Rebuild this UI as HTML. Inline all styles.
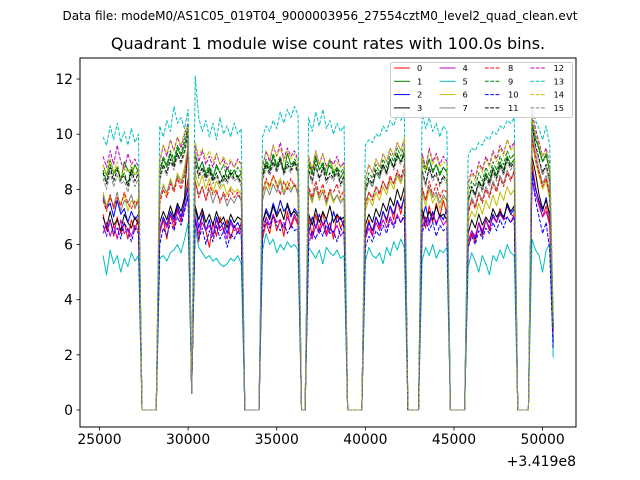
<!DOCTYPE html>
<html><head><meta charset="utf-8"><style>
body{margin:0;background:#fff}
svg{display:block;font-family:"DejaVu Sans","Liberation Sans",sans-serif}
</style></head><body>
<svg id="chart" width="640" height="480" viewBox="0 0 640 480">
<rect width="640" height="480" fill="#fff"/>
<text x="320" y="20" font-size="12" text-anchor="middle">Data file: modeM0/AS1C05_019T04_9000003956_27554cztM0_level2_quad_clean.evt</text>
<text x="328" y="49" font-size="16" text-anchor="middle">Quadrant 1 module wise count rates with 100.0s bins.</text>
<defs><clipPath id="clip"><rect x="80" y="58" width="496" height="369"/></clipPath></defs>
<g id="series" clip-path="url(#clip)"></g>
<rect x="80" y="58" width="496" height="369" fill="none" stroke="#000" stroke-width="1"/>
<g id="xticks"></g>
<g id="yticks"></g>
<text x="576" y="466" font-size="14" text-anchor="end">+3.419e8</text>
<g id="legend"></g>
</svg>
<script>
const tStart = 25200;
const binWidth = 200;
const xTicks = [25000, 30000, 35000, 40000, 45000, 50000];
const yTicks = [0, 2, 4, 6, 8, 10, 12];
const labels = ["0","1","2","3","4","5","6","7","8","9","10","11","12","13","14","15"];
const s0=[7.1,6.5,6.9,6.3,7.0,6.4,6.8,6.2,6.9,6.5,7.0,0,0,0,0,0,6.4,6.9,6.2,7.1,6.6,7.3,6.8,7.6,8.4,0.6,7.0,6.1,7.2,6.5,5.9,6.8,6.3,7.0,6.5,6.9,6.2,6.7,6.4,6.8,0,0,0,0,0,6.2,6.8,6.4,7.1,6.5,6.9,6.3,7.2,6.6,7.0,6.7,0,0,7.0,6.3,7.1,6.5,7.2,6.4,6.8,6.2,7.1,6.6,6.9,0,0,0,0,0,6.4,6.9,6.3,7.0,6.6,7.2,6.8,7.4,6.9,7.6,7.1,7.8,0,0,0,0,7.2,6.6,7.4,6.8,7.5,7.0,7.6,7.1,0,0,0,0,0,5.9,6.4,6.1,6.8,6.3,6.9,6.5,7.1,6.8,7.3,6.9,7.5,7.1,7.0,0,0,0,0,9.0,8.1,7.5,7.0,7.4,6.8,2.8];
const s1=[8.9,8.5,9.1,8.6,8.8,8.3,9.0,8.7,8.5,8.9,8.6,0,0,0,0,0,8.6,9.1,8.8,9.3,8.9,9.5,9.2,9.6,10.2,0.6,9.3,8.7,9.0,8.5,8.8,8.4,8.9,8.6,8.3,8.8,8.5,8.7,8.4,8.6,0,0,0,0,0,8.5,9.0,8.7,9.2,8.8,9.1,8.6,9.3,8.9,9.0,8.8,0,0,9.0,8.6,9.2,8.7,8.9,8.5,9.1,8.6,8.8,8.4,8.7,0,0,0,0,0,7.9,8.3,8.1,8.6,8.4,8.9,8.6,9.1,8.8,9.3,9.0,9.4,0,0,0,0,9.2,8.7,9.1,8.6,8.9,8.5,8.8,8.6,0,0,0,0,0,7.6,8.0,7.8,8.3,8.1,8.6,8.3,8.8,8.5,9.0,8.7,9.2,8.9,9.1,0,0,0,0,10.4,9.8,9.5,9.0,9.3,8.6,3.0];
const s2=[7.7,7.3,7.5,7.0,7.6,7.1,7.3,6.8,7.2,6.9,7.1,0,0,0,0,0,6.5,7.0,6.7,7.2,6.9,7.4,7.0,7.5,8.1,0.6,7.4,6.6,7.1,6.5,6.9,6.3,7.0,6.6,6.8,6.4,6.9,6.6,6.8,6.5,0,0,0,0,0,6.8,7.3,7.0,7.5,7.1,7.6,7.2,7.4,7.0,7.3,7.1,0,0,6.4,7.0,6.6,7.1,6.7,6.9,6.5,7.2,6.8,7.0,6.6,0,0,0,0,0,6.3,6.8,6.5,7.0,6.7,7.2,6.9,7.4,7.1,7.6,7.3,7.7,0,0,0,0,6.9,7.4,6.8,7.2,6.7,7.1,6.9,7.3,0,0,0,0,0,6.1,6.5,6.2,6.8,6.4,6.9,6.6,7.1,6.8,7.2,7.0,7.4,7.1,7.3,0,0,0,0,8.7,8.0,7.6,7.2,7.7,7.0,2.4];
const s3=[7.0,6.6,7.2,6.7,6.9,6.5,7.1,6.8,6.6,7.0,6.7,0,0,0,0,0,6.8,7.2,6.9,7.4,7.0,7.5,7.2,7.7,9.8,0.6,7.4,6.9,7.3,6.8,7.1,6.7,7.2,6.8,7.0,6.6,7.1,6.8,7.0,6.9,0,0,0,0,0,6.8,7.2,6.9,7.4,7.0,7.3,6.9,7.5,7.1,7.2,7.0,0,0,7.1,6.7,7.3,6.8,7.2,6.9,7.4,6.8,7.1,6.9,7.0,0,0,0,0,0,6.7,7.1,6.8,7.3,7.0,7.5,7.2,7.7,7.4,8.0,7.6,8.1,0,0,0,0,7.3,6.8,7.2,6.9,7.4,7.0,7.1,6.9,0,0,0,0,0,6.4,6.9,6.6,7.1,6.7,7.0,6.8,7.3,7.0,7.2,6.9,7.5,7.2,7.4,0,0,0,0,9.2,8.6,7.8,7.3,7.6,7.1,3.1];
const s4=[6.4,6.8,6.3,6.7,6.2,6.9,6.4,6.6,6.3,6.7,6.5,0,0,0,0,0,6.5,6.9,6.6,7.1,6.8,7.2,6.9,7.3,7.8,0.6,7.0,6.4,6.8,6.5,6.7,6.3,6.9,6.5,6.6,6.2,6.8,6.5,6.6,6.4,0,0,0,0,0,6.6,7.0,6.7,7.1,6.8,6.9,6.6,7.0,6.7,7.1,6.8,0,0,6.5,6.2,6.7,6.4,6.8,6.3,6.6,6.4,6.7,6.3,6.5,0,0,0,0,0,6.2,6.6,6.3,6.8,6.5,6.9,6.6,7.0,6.7,7.1,6.8,7.0,0,0,0,0,6.6,7.0,6.7,7.1,6.8,7.0,6.7,6.9,0,0,0,0,0,6.1,6.5,6.3,6.8,6.5,6.9,6.6,7.0,6.8,7.1,6.9,7.0,6.8,7.1,0,0,0,0,8.3,7.8,7.4,7.0,7.2,6.7,2.6];
const s5=[5.6,4.9,5.8,5.3,5.6,5.0,5.5,5.2,5.7,5.4,5.6,0,0,0,0,0,5.5,5.6,5.4,5.7,5.8,6.0,5.7,6.2,6.8,0.9,6.6,5.9,5.7,5.5,5.6,5.4,5.5,5.3,5.2,5.3,5.5,5.4,5.6,5.3,0,0,0,0,0,5.8,6.4,6.0,6.2,5.7,6.0,5.8,6.1,5.9,6.0,5.8,0,0,5.9,5.7,5.5,5.8,5.3,5.9,5.7,5.6,5.8,5.5,5.6,0,0,0,0,0,5.4,5.9,5.6,5.5,5.7,5.3,5.9,5.6,6.1,5.8,6.2,5.9,0,0,0,0,5.4,5.9,5.6,6.0,5.5,5.8,5.7,5.9,0,0,0,0,0,5.2,5.7,5.4,5.0,5.6,5.3,4.9,5.6,5.4,5.8,5.5,6.0,5.7,5.6,0,0,0,0,6.2,5.8,5.6,5.0,5.8,6.0,1.9];
const s6=[7.9,7.4,7.8,7.3,7.7,7.5,7.8,7.2,7.6,7.4,7.7,0,0,0,0,0,7.6,8.2,7.8,8.4,8.0,8.6,8.3,8.8,9.6,0.6,8.6,8.1,8.5,8.0,8.4,7.9,8.3,8.0,8.2,7.8,8.1,7.9,8.0,7.8,0,0,0,0,0,7.8,8.3,8.0,8.5,8.1,8.4,7.9,8.3,8.0,8.2,7.9,0,0,7.9,7.5,8.1,7.6,8.0,7.4,7.9,7.5,7.8,7.6,7.7,0,0,0,0,0,7.2,7.7,7.4,7.9,7.6,8.1,7.8,8.3,8.0,8.5,8.2,8.7,0,0,0,0,7.9,7.4,8.0,7.5,7.8,7.3,7.7,7.6,0,0,0,0,0,6.8,7.2,7.0,7.5,7.1,7.6,7.3,7.8,7.4,7.9,7.6,8.1,7.8,8.0,0,0,0,0,9.8,9.0,8.5,8.0,8.3,7.6,3.2];
const s7=[7.8,7.3,7.7,7.4,7.9,7.2,7.6,7.5,7.8,7.3,7.6,0,0,0,0,0,7.7,8.1,7.9,8.3,8.0,8.5,8.2,8.6,9.5,0.6,8.3,7.8,8.1,7.6,8.0,7.5,7.9,7.6,7.8,7.4,7.7,7.5,7.8,7.6,0,0,0,0,0,7.6,8.1,7.8,8.2,7.9,8.3,7.8,8.1,7.9,8.2,7.8,0,0,8.0,7.6,8.1,7.7,7.9,7.5,8.0,7.6,7.8,7.5,7.7,0,0,0,0,0,7.5,7.9,7.7,8.1,7.9,8.3,8.0,8.4,8.2,8.6,8.3,8.7,0,0,0,0,8.0,7.6,8.1,7.7,7.9,7.5,7.8,7.6,0,0,0,0,0,7.2,7.7,7.4,7.9,7.6,8.1,7.8,8.3,8.0,8.5,8.2,8.7,8.4,8.6,0,0,0,0,10.0,9.3,8.7,8.2,8.5,7.9,3.0];
const s8=[7.6,7.2,7.8,7.3,7.7,7.4,7.9,7.5,7.3,7.6,7.4,0,0,0,0,0,7.5,8.0,7.7,8.2,7.9,8.4,8.0,8.5,9.3,0.6,8.3,7.7,8.1,7.6,8.2,7.8,8.0,7.5,7.9,7.6,8.0,7.7,7.9,7.6,0,0,0,0,0,7.9,8.4,8.1,8.5,8.2,7.8,8.3,8.0,8.4,8.1,8.2,0,0,8.1,7.7,8.3,7.8,8.2,7.6,8.0,7.9,8.2,7.7,8.0,0,0,0,0,0,7.4,7.9,7.6,8.1,7.8,8.3,8.0,8.5,8.2,8.7,8.4,8.9,0,0,0,0,8.1,7.6,8.3,7.8,8.2,7.7,8.0,7.9,0,0,0,0,0,7.1,7.6,7.3,7.8,7.5,8.0,7.7,8.2,7.9,8.4,8.1,8.6,8.3,8.7,0,0,0,0,9.9,9.1,8.6,8.1,8.4,7.8,2.9];
const s9=[8.7,8.3,8.9,8.5,8.8,8.4,8.6,8.2,8.8,8.5,8.7,0,0,0,0,0,8.7,9.2,8.9,9.4,9.1,9.6,9.3,9.8,10.3,0.6,9.2,8.7,9.0,8.6,8.9,8.5,8.8,8.6,8.9,8.4,8.7,8.5,8.8,8.6,0,0,0,0,0,8.6,9.1,8.8,9.3,8.9,9.2,8.7,9.0,8.8,9.1,8.9,0,0,8.9,8.5,9.1,8.7,9.0,8.6,8.9,8.5,8.8,8.6,8.8,0,0,0,0,0,8.2,8.6,8.4,8.9,8.6,9.1,8.8,9.3,9.0,9.5,9.2,9.6,0,0,0,0,9.0,8.6,9.1,8.7,8.9,8.6,8.8,8.7,0,0,0,0,0,7.9,8.3,8.1,8.6,8.3,8.8,8.5,9.0,8.7,9.2,8.9,9.4,9.1,9.3,0,0,0,0,10.6,10.0,9.4,9.0,9.2,8.7,3.1];
const s10=[6.7,6.3,6.9,6.4,6.6,6.2,6.8,6.5,6.1,6.6,6.4,0,0,0,0,0,6.0,6.6,6.3,6.8,6.5,7.0,6.7,7.2,7.8,0.6,6.9,6.2,6.6,6.0,6.5,6.1,6.7,6.2,6.5,5.9,6.4,6.2,6.5,6.3,0,0,0,0,0,6.4,6.9,6.6,7.0,6.7,6.5,6.8,6.4,6.7,6.5,6.6,0,0,6.0,6.5,6.2,6.6,6.3,6.7,6.4,6.5,6.1,6.6,6.4,0,0,0,0,0,5.9,6.3,6.1,6.5,6.3,6.7,6.4,6.9,6.6,7.0,6.8,7.1,0,0,0,0,6.4,6.9,6.5,6.8,6.3,6.7,6.5,6.6,0,0,0,0,0,5.9,6.3,6.0,6.5,6.2,6.6,6.4,6.8,6.5,6.9,6.6,7.0,6.8,7.0,0,0,0,0,8.5,7.6,7.0,6.4,6.8,5.8,2.2];
const s11=[8.6,8.2,8.8,8.3,8.7,8.4,8.5,8.1,8.7,8.3,8.6,0,0,0,0,0,8.4,8.9,8.6,9.1,8.8,9.3,9.0,9.4,10.0,0.6,9.0,8.5,8.8,8.4,8.7,8.3,8.6,8.2,8.5,8.3,8.6,8.4,8.5,8.2,0,0,0,0,0,8.4,8.9,8.6,9.0,8.7,9.1,8.6,8.9,8.7,9.0,8.6,0,0,8.7,8.3,8.9,8.4,8.8,8.3,8.6,8.4,8.7,8.2,8.5,0,0,0,0,0,8.0,8.4,8.2,8.7,8.5,8.9,8.6,9.1,8.8,9.2,9.0,9.3,0,0,0,0,8.7,8.2,8.8,8.4,8.6,8.2,8.5,8.3,0,0,0,0,0,7.6,8.1,7.8,8.3,8.0,8.5,8.2,8.7,8.4,8.9,8.6,9.1,8.8,9.0,0,0,0,0,10.3,9.6,9.1,8.6,8.9,8.3,3.0];
const s12=[9.2,8.8,9.4,8.9,9.6,9.0,8.7,9.3,8.9,9.1,8.8,0,0,0,0,0,9.0,9.6,9.2,9.8,9.4,9.9,9.5,10.0,10.4,0.6,9.6,9.0,9.4,8.9,9.2,8.8,9.3,8.9,9.1,8.7,9.0,8.8,9.1,8.9,0,0,0,0,0,8.8,9.4,9.0,9.6,9.2,9.7,9.1,9.5,9.2,9.4,9.1,0,0,9.2,8.7,9.4,8.9,9.3,8.8,9.1,8.9,9.2,8.8,9.0,0,0,0,0,0,8.4,8.9,8.6,9.1,8.8,9.3,9.0,9.5,9.2,9.7,9.4,9.8,0,0,0,0,9.3,8.8,9.5,9.0,9.3,8.9,9.2,9.0,0,0,0,0,0,8.2,8.7,8.4,9.0,8.7,9.2,8.9,9.4,9.1,9.6,9.3,9.8,9.5,9.7,0,0,0,0,10.8,10.2,9.7,9.2,9.5,8.9,3.2];
const s13=[9.9,9.6,10.3,9.8,10.4,9.7,10.1,9.6,10.2,9.7,10.0,0,0,0,0,0,10.3,9.9,10.5,10.1,11.0,10.4,10.6,10.2,10.9,1.0,12.1,10.6,10.1,10.5,9.9,10.4,9.8,10.6,10.0,10.3,9.9,10.4,10.0,10.2,0,0,0,0,0,9.9,10.3,10.1,10.5,10.2,10.8,10.4,10.9,10.6,11.0,10.7,0,0,10.6,10.1,10.8,10.3,10.9,10.2,10.5,10.0,10.4,10.1,10.3,0,0,0,0,0,9.6,9.8,9.7,10.0,9.9,10.3,10.1,10.5,10.3,10.7,10.5,10.8,0,0,0,0,10.8,10.2,10.6,10.1,10.4,9.9,10.3,10.1,0,0,0,0,0,9.2,9.5,9.4,9.7,9.6,9.9,9.8,10.1,10.0,10.3,10.2,10.5,10.4,10.6,0,0,0,0,11.0,10.5,10.2,9.8,10.3,9.6,3.3];
const s14=[8.9,8.5,9.1,8.6,9.0,8.4,8.8,8.6,8.9,8.5,8.8,0,0,0,0,0,9.1,9.6,9.3,9.8,9.4,9.9,9.6,10.1,10.3,0.6,9.7,9.2,9.5,9.1,9.4,9.0,9.3,8.9,9.2,8.9,9.1,8.8,9.0,8.9,0,0,0,0,0,8.9,9.4,9.1,9.6,9.2,9.5,9.0,9.4,9.1,9.3,9.0,0,0,9.2,8.7,9.4,8.9,9.3,8.8,9.1,8.7,9.0,8.8,8.9,0,0,0,0,0,8.4,8.9,8.6,9.1,8.8,9.3,9.0,9.5,9.2,9.7,9.4,9.9,0,0,0,0,9.2,8.7,9.4,8.9,9.2,8.8,9.0,8.9,0,0,0,0,0,8.1,8.6,8.3,8.9,8.6,9.1,8.8,9.3,9.0,9.5,9.2,9.8,9.4,9.6,0,0,0,0,10.7,10.0,9.6,9.2,9.4,8.8,3.1];
const s15=[8.4,8.0,8.6,8.1,8.5,8.2,8.3,7.9,8.5,8.1,8.4,0,0,0,0,0,8.3,8.8,8.5,9.0,8.7,9.2,8.9,9.3,9.9,0.6,8.9,8.4,8.7,8.3,8.6,8.2,8.5,8.1,8.4,8.2,8.5,8.3,8.4,8.1,0,0,0,0,0,8.3,8.8,8.5,8.9,8.6,9.0,8.5,8.8,8.6,8.9,8.5,0,0,8.6,8.2,8.8,8.3,8.7,8.2,8.5,8.3,8.6,8.1,8.4,0,0,0,0,0,7.9,8.3,8.1,8.6,8.4,8.8,8.5,9.0,8.7,9.1,8.9,9.2,0,0,0,0,8.6,8.1,8.7,8.3,8.5,8.1,8.4,8.2,0,0,0,0,0,7.5,8.0,7.7,8.2,7.9,8.4,8.1,8.6,8.3,8.8,8.5,9.0,8.7,8.9,0,0,0,0,10.2,9.5,9.0,8.5,8.8,8.2,3.0];
const seriesList=[s0,s1,s2,s3,s4,s5,s6,s7,s8,s9,s10,s11,s12,s13,s14,s15];

const colors=["#ff0000","#008000","#0000ff","#000000","#bf00bf","#00bfbf","#bfbf00","#808080"];
const NS="http://www.w3.org/2000/svg";
function xS(t){return 99.5+(t-25000)*0.017724;}
function yS(v){return 410-v*27.58;}
function mk(tag,attrs,parent){const e=document.createElementNS(NS,tag);for(const k in attrs)e.setAttribute(k,attrs[k]);parent.appendChild(e);return e;}

const sg=document.getElementById('series');
seriesList.forEach((arr,k)=>{
  const pts=arr.map((v,i)=>xS(tStart+i*binWidth).toFixed(2)+","+yS(v).toFixed(2)).join(" ");
  const pl=mk('polyline',{points:pts,fill:"none",stroke:colors[k%8],"stroke-width":1,"stroke-linejoin":"round"},sg);
  if(k>=8)pl.setAttribute('stroke-dasharray','3.7,1.6');
  
  
});

const xg=document.getElementById('xticks');
xTicks.forEach(t=>{
  const x=xS(t);
  const tk=mk('line',{x1:x,x2:x,y1:427,y2:430.5,stroke:"#000","stroke-width":0.8},xg);
  
  
  const tx=mk('text',{x:x,y:444,"font-size":13.9,"text-anchor":"middle"},xg);
  tx.textContent=String(t);
  
  
});
const yg=document.getElementById('yticks');
yTicks.forEach(v=>{
  const y=yS(v);
  const tk=mk('line',{x1:76.5,x2:80,y1:y,y2:y,stroke:"#000","stroke-width":0.8},yg);
  
  
  const tx=mk('text',{x:73,y:y+5,"font-size":13.9,"text-anchor":"end"},yg);
  tx.textContent=String(v);
  
  
});

const lg=document.getElementById('legend');
const box=mk('rect',{x:390.5,y:62.5,width:182,height:55,rx:2,fill:"#fff","fill-opacity":0.8,stroke:"#ccc","stroke-width":1},lg);


labels.forEach((lab,k)=>{
  const col=Math.floor(k/4),row=k%4;
  const x0=394+col*45.5,y0=68+row*13.3;
  const g=mk('g',{},lg);
  
  
  const ln=mk('line',{x1:x0,x2:x0+16,y1:y0,y2:y0,stroke:colors[k%8],"stroke-width":1},g);
  if(k>=8)ln.setAttribute('stroke-dasharray','3.7,1.6');
  const tx=mk('text',{x:x0+23,y:y0+3,"font-size":8.3},g);
  tx.textContent=lab;
});
</script>
</body></html>
